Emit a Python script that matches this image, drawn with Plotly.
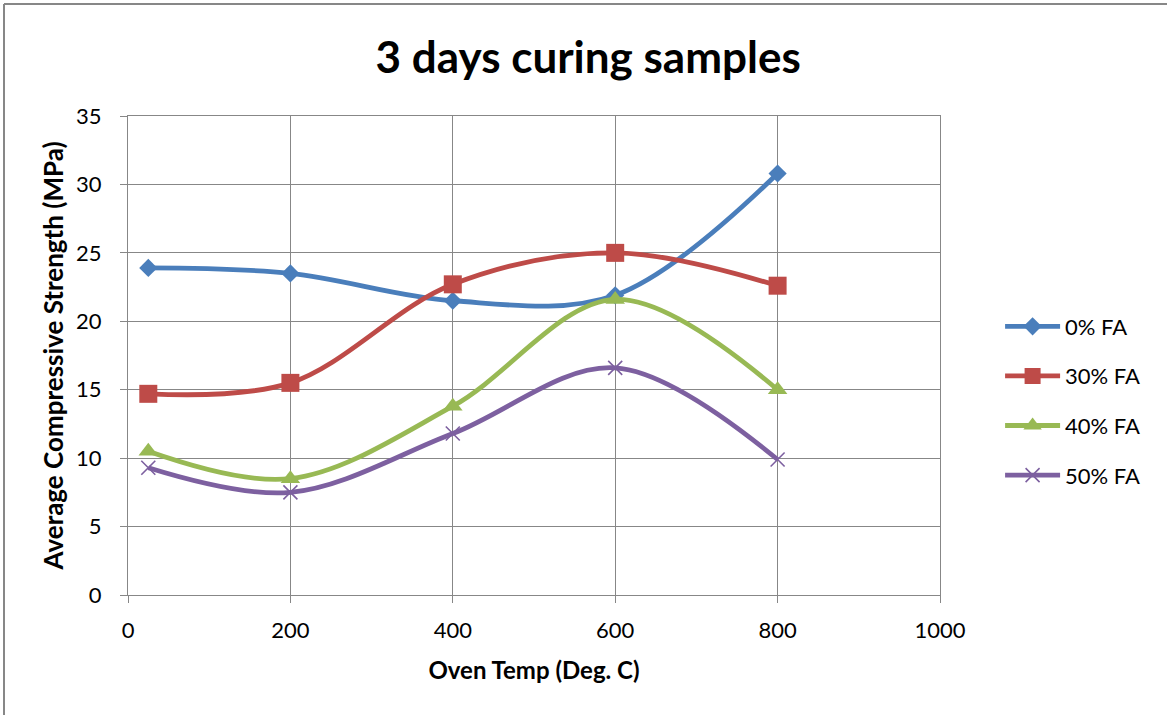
import plotly.graph_objects as go

# Oven temperatures (deg C) and strengths (MPa) after 3 days curing
temps = [25, 200, 400, 600, 800]
fa_0 = [23.9, 23.5, 21.5, 21.9, 30.8]
fa_30 = [14.7, 15.5, 22.7, 25.0, 22.6]
fa_40 = [10.5, 8.5, 13.8, 21.6, 15.0]
fa_50 = [9.3, 7.5, 11.8, 16.6, 9.9]

series = [
    ("0% FA", fa_0, "#4A7EBB", "diamond", 14),
    ("30% FA", fa_30, "#BE4B48", "square", 18),
    ("40% FA", fa_40, "#98B954", "triangle-up", 17),
    ("50% FA", fa_50, "#7D60A0", "x-thin", 14),
]

FONT = "Lato"
GRID = "#878787"

fig = go.Figure()
for i, (name, vals, color, symbol, size) in enumerate(series):
    marker = dict(symbol=symbol, size=size, color=color)
    if symbol == "x-thin":
        marker["line"] = dict(color=color, width=1.6)
    fig.add_trace(go.Scatter(
        x=temps, y=vals, name=name, mode="lines+markers",
        line=dict(color=color, width=4.8, shape="spline", smoothing=1.0),
        marker=marker, legendgroup=f"g{i}",
    ))

axis_common = dict(
    showgrid=True, gridcolor=GRID, gridwidth=1.2,
    showline=True, linecolor=GRID, linewidth=1.2, mirror=True,
    ticks="outside", ticklen=7, tickcolor=GRID, tickwidth=1.2,
    zeroline=False,
    tickfont=dict(family=FONT, size=22, color="#000000"),
)

fig.update_layout(
    width=1167, height=715,
    margin=dict(l=128, r=227, t=116, b=120),
    paper_bgcolor="white", plot_bgcolor="white",
    title=dict(text="<b>3 days curing samples</b>", x=0.504, xanchor="center",
               y=0.92, yanchor="middle",
               font=dict(family=FONT, size=44, color="#000000")),
    xaxis=dict(range=[0, 1000], dtick=200, tick0=0, ticklabelstandoff=8,
               title=dict(text="<b>Oven Temp (Deg. C)</b>", standoff=20,
                          font=dict(family=FONT, size=24, color="#000000")),
               **axis_common),
    yaxis=dict(range=[0, 35], dtick=5, tick0=0, ticklabelstandoff=14,
               title=dict(text="<b>Average Compressive Strength (MPa)</b>", standoff=4,
                          font=dict(family=FONT, size=26, color="#000000")),
               **axis_common),
    legend=dict(x=1.074, y=0.405, xanchor="left", yanchor="middle",
                font=dict(family=FONT, size=22, color="#000000"),
                tracegroupgap=18, itemwidth=55, bgcolor="rgba(0,0,0,0)"),
    showlegend=True,
)

# Chart frame: top and left edges
fig.add_shape(type="line", xref="paper", yref="paper",
              x0=-0.1527, x1=1.28, y0=1.2338, y1=1.2338,
              line=dict(color=GRID, width=2))
fig.add_shape(type="line", xref="paper", yref="paper",
              x0=-0.1527, x1=-0.1527, y0=1.2338, y1=-0.26,
              line=dict(color=GRID, width=2))

fig.write_html("out.html")
